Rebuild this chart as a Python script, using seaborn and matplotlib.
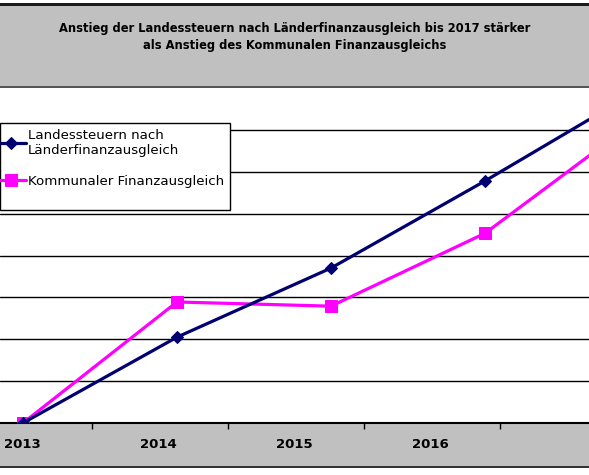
import matplotlib
matplotlib.use('Agg')
import matplotlib.pyplot as plt
from matplotlib.patches import Rectangle
import seaborn as sns
import pandas as pd

# Werte (Einheit = Abstand der Gitterlinien)
jahre = ['2013', '2014', '2015', '2016', '2017']
landessteuern = [0, 2.05, 3.70, 5.78, 7.95]
kommunal = [0, 2.89, 2.79, 4.53, 7.27]

titel = ('Anstieg der Landessteuern nach Länderfinanzausgleich bis 2017 stärker\n'
         'als Anstieg des Kommunalen Finanzausgleichs')
name_land = 'Landessteuern nach\nLänderfinanzausgleich'
name_komm = 'Kommunaler Finanzausgleich'

df = pd.DataFrame({'pos': range(len(jahre)), 'land': landessteuern, 'komm': kommunal})

W, H = 589, 475
sns.set_theme(style='white')
plt.rcParams['font.family'] = ['DejaVu Sans']
plt.rcParams['text.color'] = 'black'

fig = plt.figure(figsize=(W / 100, H / 100), dpi=100)
fig.patch.set_facecolor('white')

def band(y0, y1, color):
    fig.patches.append(Rectangle((0, 1 - y1 / H), 1, (y1 - y0) / H,
                                 transform=fig.transFigure, facecolor=color,
                                 edgecolor='none', zorder=-1))

# Grauer Titelbereich und Achsenbereich wie im Excel-Diagramm
band(3, 6, '#1a1a1a')
band(6, 86, '#c0c0c0')
band(85.5, 87.5, '#555555')
band(423, 466, '#c0c0c0')
band(465.5, 467.5, '#333333')

fig.text(0.5, 1 - 37 / H, titel, ha='center', va='center', fontsize=8.3,
         fontweight='bold', linespacing=1.35, color='black')

ax = fig.add_axes([0, 1 - 423 / H, 1, (423 - 88) / H])
ax.set_facecolor('white')

sns.lineplot(data=df, x='pos', y='komm', ax=ax, color='#ff00ff', lw=2.3,
             marker='s', markersize=8.5, markeredgecolor='#ff00ff', zorder=3)
sns.lineplot(data=df, x='pos', y='land', ax=ax, color='#000070', lw=2.3,
             marker='D', markersize=6, markeredgecolor='#000070', zorder=4)

for v in range(1, 8):
    ax.axhline(v, color='black', lw=1, zorder=1)

for s in ['top', 'right', 'left']:
    ax.spines[s].set_visible(False)
ax.spines['bottom'].set_color('black')
ax.spines['bottom'].set_linewidth(1.5)

# Kategorienbeschriftung (2017 liegt ausserhalb des Ausschnitts)
step = 154.0
lab_step = 136 / step
lab_pos = [-1 / step + lab_step * i for i in range(len(jahre) - 1)]
ax.set_xticks([p + 70 / step for p in lab_pos])
ax.set_xticklabels([])
ax.tick_params(axis='x', which='major', direction='out', length=4, width=1,
               color='black', bottom=True)
ax.set_xticks(lab_pos, minor=True)
ax.set_xticklabels(jahre[:-1], minor=True, fontsize=9.5, fontweight='bold',
                   color='black')
ax.tick_params(axis='x', which='minor', length=0, pad=11, bottom=True)
ax.set_yticks([])
ax.set_xlabel('')
ax.set_ylabel('')

ax.set_xlim(-23 / step, (W - 23) / step)
ax.set_ylim(0, 8.0)

# Legende mit Rahmen wie im Original
ax.add_patch(Rectangle((0, (423 - 210) / 335), 230 / W, 87 / 335,
                       transform=ax.transAxes, facecolor='white',
                       edgecolor='black', lw=1, zorder=9))
lines = ax.get_lines()
h_komm, h_land = lines[0], lines[1]
leg = ax.legend([h_land, h_komm], [name_land, name_komm], loc='upper left',
                bbox_to_anchor=(-0.012, (423 - 126) / 335), frameon=False,
                fontsize=9.6, handlelength=2.3, handletextpad=0.12,
                borderpad=0.2, borderaxespad=0, labelspacing=1.35)
for t in leg.get_texts():
    t.set_color('black')
leg.set_zorder(10)

fig.savefig('out.png', dpi=100, facecolor=fig.get_facecolor())
